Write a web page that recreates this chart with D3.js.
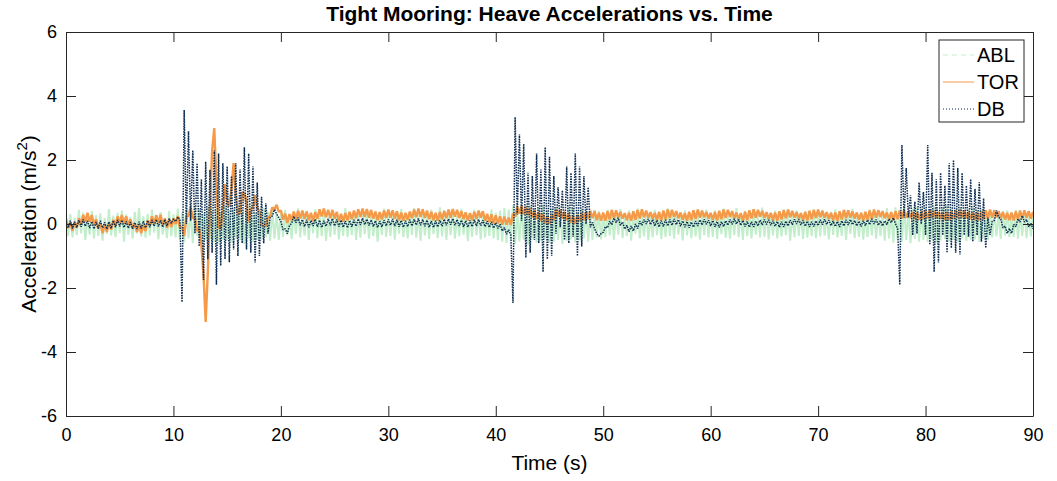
<!DOCTYPE html>
<html><head><meta charset="utf-8">
<script src="https://cdn.jsdelivr.net/npm/d3@7"></script>
<style>body{margin:0;background:#fff}svg text{font-family:"Liberation Sans",Arial,Helvetica,sans-serif}</style>
</head><body><svg id="c" width="1057" height="481"></svg>
<script>
// ---- data (sampled every 0.2 s, 0..90 s) ----
const seriesNames = ["ABL", "TOR", "DB"];
const xTickValues = [0,10,20,30,40,50,60,70,80,90];
const yTickValues = [-6,-4,-2,0,2,4,6];
const timeRange = [0, 90];

const abl = [
.25,-.38,.31,-.42,.18,-.35,.44,-.29,.36,-.5, .22,-.33,.4,-.45,.28,-.37,.33,-.52,.19,-.31, .47,-.36,.26,-.41,.35,-.28,.42,-.55,.3,-.34, .21,-.46,.38,-.3,.5,-.39,.24,-.43,.32,-.36, .45,-.27,.29,-.48,.37,-.33,.2,-.44,.41,-.38,
.3,-.42,.48,-.5,.36,-.58,.52,-.45,.4,-.6, .55,-.38,.46,-.62,.35,-.5,.58,-.47,.42,-.55, .5,-.6,.38,-.48,.56,-.52,.44,-.58,.49,-.45, .53,-.5,.4,-.63,.47,-.44,.55,-.56,.36,-.5, .45,-.48,.5,-.4,.38,-.52,.42,-.46,.35,-.5,
.32,-.4,.44,-.35,.27,-.47,.38,-.31,.49,-.42, .25,-.36,.41,-.5,.34,-.29,.46,-.44,.3,-.38, .37,-.53,.22,-.4,.43,-.33,.35,-.48,.28,-.37, .5,-.41,.31,-.35,.39,-.5,.26,-.43,.45,-.32, .33,-.46,.4,-.38,.24,-.55,.36,-.34,.48,-.4,
.29,-.37,.42,-.49,.35,-.3,.47,-.41,.23,-.45, .38,-.34,.5,-.43,.3,-.52,.4,-.36,.33,-.47, .45,-.31,.27,-.44,.52,-.39,.36,-.5,.31,-.35, .41,-.46,.25,-.38,.48,-.33,.37,-.54,.28,-.4, .44,-.36,.34,-.48,.4,-.42,.3,-.37,.46,-.45,
.35,-.5,.42,-.55,.5,-.6,.45,-.48,.58,-.62, .4,-.55,.52,-.5,.47,-.65,.55,-.45,.38,-.58, .5,-.52,.6,-.47,.42,-.6,.48,-.55,.53,-.5, .45,-.62,.4,-.53,.55,-.48,.5,-.58,.36,-.52, .48,-.45,.42,-.55,.38,-.5,.45,-.42,.4,-.48,
.33,-.41,.45,-.36,.28,-.49,.39,-.33,.47,-.44, .26,-.38,.42,-.52,.35,-.3,.48,-.45,.31,-.39, .38,-.5,.24,-.42,.44,-.35,.36,-.47,.29,-.4, .49,-.37,.32,-.46,.4,-.33,.27,-.51,.43,-.36, .34,-.44,.41,-.39,.25,-.48,.37,-.35,.45,-.42,
.3,-.4,.43,-.47,.36,-.32,.48,-.43,.24,-.46, .39,-.35,.5,-.41,.31,-.5,.41,-.38,.34,-.45, .46,-.33,.28,-.42,.51,-.4,.37,-.48,.32,-.36, .42,-.45,.26,-.39,.47,-.35,.38,-.52,.29,-.41, .43,-.37,.35,-.47,.4,-.43,.31,-.38,.45,-.44,
.31,-.39,.44,-.36,.27,-.48,.38,-.34,.46,-.42, .25,-.37,.43,-.5,.33,-.31,.47,-.44,.29,-.4, .36,-.49,.23,-.41,.45,-.36,.35,-.46,.3,-.38, .4,-.52,.5,-.45,.38,-.58,.52,-.48,.44,-.55, .55,-.5,.4,-.6,.48,-.46,.53,-.55,.42,-.5,
.5,-.56,.45,-.5,.55,-.6,.4,-.52,.5,-.47, .58,-.55,.43,-.5,.48,-.58,.52,-.45,.4,-.53, .47,-.5,.55,-.48,.42,-.56,.5,-.44,.38,-.5, .34,-.42,.45,-.38,.3,-.47,.4,-.36,.43,-.41, .28,-.4,.44,-.46,.33,-.37,.42,-.44,.36,-.39,
.3];

const tor = [
.17,-.13,.05,-.22,.06,-.12,.18,0,.29,.06, .35,.07,.28,-.02,.15,-.15,.01,-.29,-.02,-.25, .03,-.17,.13,-.05,.24,.04,.28,.01,.24,-.03, .15,-.15,.02,-.25,-.03,-.29,-.03,-.22,.11,-.05, .24,0,.27,.04,.29,-.03,.17,-.12,.13,-.09,
.17,0,.25,-.12,-.1,-.37,.22,.25,.52,.18, .2,-.22,-.15,-.65,-1.6,-3.06,-1.5,.6,2.3,3.0, 1.3,-.1,-.15,.5,1.25,.7,.55,1.1,1.9,.9, .3,.35,1.0,.95,.7,.05,.45,.5,.9,.5, .4,-.05,-.05,-.05,.2,.25,.52,.45,.6,.38,
.42,.13,.32,.03,.31,.11,.39,.15,.41,.17, .42,.16,.39,.12,.35,.09,.37,.16,.46,.24, .48,.21,.44,.18,.44,.17,.38,.09,.32,.08, .34,.11,.38,.15,.42,.18,.46,.22,.48,.22, .47,.2,.44,.17,.39,.12,.37,.14,.42,.19,
.45,.2,.43,.17,.4,.12,.36,.1,.35,.13, .39,.18,.45,.21,.48,.22,.46,.19,.42,.15, .38,.12,.35,.1,.37,.14,.41,.18,.45,.2, .47,.23,.44,.19,.4,.15,.36,.11,.34,.12, .38,.16,.42,.2,.4,.1,.32,.06,.3,.02,
.27,.02,.24,-.02,.23,-.02,.2,-.03,.32,.23, .54,.32,.56,.3,.54,.28,.49,.2,.42,.15, .38,.1,.3,.02,.24,0,.3,.12,.44,.23, .45,.17,.38,.12,.33,.04,.24,0,.29,.08, .35,.12,.38,.15,.41,.18,.4,.12,.35,.1,
.36,.1,.4,.14,.44,.18,.43,.2,.38,.17, .34,.12,.35,.1,.4,.13,.44,.17,.46,.21, .42,.2,.37,.16,.35,.12,.38,.11,.42,.15, .45,.19,.44,.22,.4,.18,.36,.13,.34,.1, .38,.12,.43,.16,.45,.2,.42,.21,.38,.17,
.35,.13,.37,.11,.41,.15,.45,.19,.44,.22, .4,.18,.36,.14,.34,.1,.38,.12,.43,.17, .46,.2,.44,.23,.41,.19,.37,.15,.35,.12, .36,.1,.4,.14,.43,.18,.45,.21,.41,.2, .37,.16,.34,.12,.37,.11,.41,.15,.44,.19,
.45,.21,.41,.19,.37,.15,.35,.12,.36,.1, .4,.14,.44,.18,.43,.2,.39,.17,.36,.13, .35,.11,.38,.13,.42,.16,.45,.2,.43,.22, .4,.18,.36,.14,.37,.12,.4,.15,.42,.17, .43,.19,.4,.18,.38,.15,.36,.13,.39,.14,
.42,.17,.44,.2,.41,.19,.38,.16,.36,.13, .37,.12,.4,.15,.43,.18,.44,.2,.41,.18, .38,.15,.36,.12,.37,.11,.4,.14,.43,.17, .45,.2,.43,.21,.4,.18,.37,.14,.35,.12, .36,.11,.39,.14,.42,.17,.43,.19,.4,.17,
.38];

const db = [
.08,-.12,.1,-.14,.07,-.11,.12,-.09,.14,-.07, .1,-.13,.08,-.15,.06,-.14,.1,-.12,.05,-.16, .07,-.14,.11,-.1,.13,-.08,.12,-.11,.08,-.13, .06,-.15,.05,-.16,.07,-.14,.09,-.12,.11,-.1, .13,-.07,.14,-.08,.12,-.1,.14,-.06,.17,.02,
.16,.08,.22,.15,-2.44,3.56,0,2.9,.1,2.3, -.3,1.9,-.7,1.4,-1.75,1.95,-1.1,1.7,-.9,2.3, -1.9,2.2,-1.3,1.9,-1.1,1.8,-1.2,1.5,-.8,1.9, -1,1.7,-.6,2.4,-.8,2.2,-.9,1.8,-1.2,1.3, -1,.85,-.6,.65,-.3,.2,.25,.45,.32,.2,
.08,-.18,-.15,-.3,-.05,.02,.24,.04,.2,-.04, .14,-.08,.13,-.1,.11,-.06,.15,-.09,.12,-.11, .1,-.07,.16,-.04,.17,-.06,.14,-.08,.12,-.1, .09,-.12,.11,-.09,.13,-.07,.16,-.03,.18,-.02, .15,-.05,.13,-.08,.1,-.11,.09,-.09,.12,-.06,
.14,-.04,.16,-.06,.13,-.09,.11,-.1,.1,-.08, .13,-.06,.15,-.03,.17,-.04,.14,-.07,.12,-.1, .09,-.11,.1,-.09,.12,-.07,.15,-.04,.16,-.02, .17,-.04,.14,-.06,.12,-.09,.1,-.1,.11,-.08, .13,-.06,.14,-.05,.12,-.08,.09,-.11,.07,-.13,
.04,-.14,-.01,-.22,-.11,-.32,-.18,-.34,-2.47,3.34, .3,2.8,.1,2.5,-1.05,1.6,-.9,1.5,-.5,2.2, -.6,1.7,-1.5,2.4,-1.1,2.1,-1,1.5,-.3,1.15, -.1,1.05,-.5,1.8,-.6,1.6,-.4,2.2,-1,1.8, -.7,1.5,0,1.15,-.1,.05,-.15,-.3,-.38,-.3,
-.26,-.08,-.12,.09,-.02,.18,.04,.19,-.04,.06, -.16,-.04,-.24,-.06,-.22,0,-.14,.09,-.04,.14, 0,.16,-.02,.14,-.06,.12,-.09,.1,-.08,.13, -.06,.14,-.04,.16,-.02,.14,-.07,.1,-.1,.08, -.12,.06,-.1,.09,-.06,.13,-.03,.15,-.01,.12,
-.06,.11,-.09,.08,-.11,.07,-.08,.1,-.04,.14, -.01,.16,0,.14,-.04,.11,-.08,.08,-.1,.07, -.09,.09,-.06,.12,-.03,.14,-.01,.13,-.04,.1, -.07,.08,-.1,.07,-.09,.09,-.06,.12,-.02,.15, 0,.14,-.03,.11,-.07,.09,-.09,.07,-.08,.1,
-.05,.13,-.02,.15,-.01,.12,-.05,.09,-.08,.08, -.09,.1,-.06,.13,-.03,.14,-.02,.11,-.06,.09, -.08,.1,-.05,.13,-.02,.16,0,.14,-.04,.1, -.06,.1,-.02,.16,.04,.19,.01,-.15,-1.9,2.47, .2,1.75,.2,.9,-.35,.7,-.3,1.3,0,1,
-.35,2.47,-.65,1.6,-1.5,1.4,-1.2,1.6,-.35,1.2, -.9,1.9,-.75,2,-.9,1.75,-.95,1.6,-.35,1.2, -.4,1.4,-.55,1.1,-.35,1.3,-.55,.8,-.75,.2, -.34,.08,.11,.42,.21,.16,-.12,-.06,-.29,-.14, -.29,-.01,-.09,.16,.06,.26,.06,.14,-.09,.02,
-.15];

// ---- layout ----
const P = {l: 66, r: 1033, t: 32, b: 416};
const ink = "#262626";
const colors = {ABL: "#c3eecb", TOR: "#f49a48", DB: "#0c2c52"};
const plotStyle = {ABL: {w: 2, dash: null}, TOR: {w: 2.4, dash: null}, DB: {w: 1.5, dash: "1.5,1.1"}};
const legendDash = {ABL: "5,4", TOR: null, DB: "1,2"};

const svg = d3.select("#c");
const x = d3.scaleLinear().domain(timeRange).range([P.l, P.r]);
const y = d3.scaleLinear().domain([-6, 6]).range([P.b, P.t]);

svg.append("defs").append("clipPath").attr("id", "clip")
  .append("rect").attr("x", P.l).attr("y", P.t).attr("width", P.r - P.l).attr("height", P.b - P.t);

const dataBy = {ABL: abl, TOR: tor, DB: db};
const g = svg.append("g").attr("clip-path", "url(#clip)");
seriesNames.forEach(name => {
  const arr = dataBy[name];
  const n = arr.length;
  const line = d3.line()
    .x((d, i) => x(timeRange[0] + i * (timeRange[1] - timeRange[0]) / (n - 1)))
    .y(d => y(d));
  const p = g.append("path").attr("d", line(arr))
    .attr("fill", "none").attr("stroke", colors[name]).attr("stroke-width", plotStyle[name].w)
    .attr("stroke-linejoin", "bevel");
  if (plotStyle[name].dash) p.attr("stroke-dasharray", plotStyle[name].dash);
});

// ---- axes (box with inward ticks) ----
function styleAxis(sel) {
  sel.selectAll("path.domain").attr("stroke", ink).attr("stroke-width", 1);
  sel.selectAll(".tick line").attr("stroke", ink);
  sel.selectAll(".tick text").attr("fill", "#000").style("font-size", "18px");
}
const tk = 10;
const fmt = d => String(d);
svg.append("g").attr("transform", `translate(0,${P.b})`)
  .call(d3.axisBottom(x).tickValues(xTickValues).tickSize(-tk).tickSizeOuter(0).tickPadding(12).tickFormat(fmt))
  .call(styleAxis);
svg.append("g").attr("transform", `translate(0,${P.t})`)
  .call(d3.axisTop(x).tickValues(xTickValues).tickSize(-tk).tickSizeOuter(0).tickFormat(""))
  .call(styleAxis);
svg.append("g").attr("transform", `translate(${P.l},0)`)
  .call(d3.axisLeft(y).tickValues(yTickValues).tickSize(-tk).tickSizeOuter(0).tickPadding(9).tickFormat(fmt))
  .call(styleAxis);
svg.append("g").attr("transform", `translate(${P.r},0)`)
  .call(d3.axisRight(y).tickValues(yTickValues).tickSize(-tk).tickSizeOuter(0).tickFormat(""))
  .call(styleAxis);
svg.selectAll(".tick text").attr("font-family", null);

// ---- titles ----
svg.append("text").attr("x", (P.l + P.r) / 2).attr("y", 21).attr("text-anchor", "middle")
  .style("font-size", "21px").style("font-weight", "bold").attr("fill", "#000")
  .text("Tight Mooring: Heave Accelerations vs. Time");
svg.append("text").attr("x", (P.l + P.r) / 2).attr("y", 470).attr("text-anchor", "middle")
  .style("font-size", "21px").attr("fill", "#000").text("Time (s)");
const yl = svg.append("text").attr("transform", `translate(36,${(P.t + P.b) / 2}) rotate(-90)`)
  .attr("text-anchor", "middle").style("font-size", "21px").attr("fill", "#000");
yl.append("tspan").text("Acceleration (m/s");
yl.append("tspan").attr("dy", -9).style("font-size", "15px").text("2");
yl.append("tspan").attr("dy", 9).text(")");

// ---- legend ----
const lg = svg.append("g");
lg.append("rect").attr("x", 939).attr("y", 40).attr("width", 85).attr("height", 82)
  .attr("fill", "#fff").attr("stroke", ink).attr("stroke-width", 1);
seriesNames.forEach((name, i) => {
  const yy = 55 + i * 27;
  const l = lg.append("line").attr("x1", 943).attr("x2", 974).attr("y1", yy).attr("y2", yy)
    .attr("stroke", colors[name]).attr("stroke-width", 1);
  if (legendDash[name]) l.attr("stroke-dasharray", legendDash[name]);
  lg.append("text").attr("x", 977).attr("y", yy).attr("dy", "0.36em")
    .style("font-size", "20px").attr("fill", "#000").text(name);
});
</script></body></html>
